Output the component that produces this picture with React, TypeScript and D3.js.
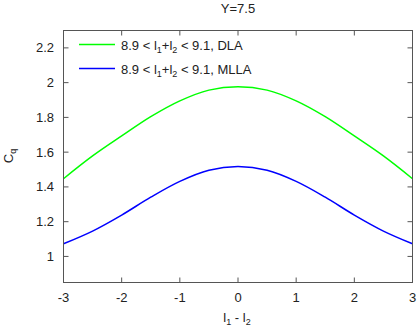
import React from "react";
import * as d3 from "d3";

const xValues = [-3, -2.5, -2, -1.5, -1, -0.5, 0, 0.5, 1, 1.5, 2, 2.5, 3];
const dlaValues = [1.447, 1.578, 1.693, 1.804, 1.895, 1.957, 1.977, 1.957, 1.895, 1.804, 1.693, 1.578, 1.447];
const mllaValues = [1.073, 1.146, 1.238, 1.341, 1.432, 1.496, 1.517, 1.496, 1.432, 1.341, 1.238, 1.146, 1.073];
const xTicks = [-3, -2, -1, 0, 1, 2, 3];
const yTicks = [1, 1.2, 1.4, 1.6, 1.8, 2, 2.2];
const seriesNames = ["DLA", "MLLA"];
const seriesColors = ["#00ff00", "#0000ff"];

const W = 419, H = 327;
const L = 63.5, R = 412.5, T = 30.5, B = 282.5;
const font = "'Liberation Sans', Arial, Helvetica, sans-serif";
const axisColor = "#555";
const textColor = "#222";

export default function App() {
  const x = d3.scaleLinear().domain([-3, 3]).range([L, R]);
  const y = d3.scaleLinear().domain([0.85, 2.3]).range([B, T]);
  const line = d3
    .line<number>()
    .x((_, i) => x(xValues[i]))
    .y((d) => y(d))
    .curve(d3.curveCatmullRom);
  const series = [dlaValues, mllaValues];
  const tl = 5;
  return (
    <svg width={W} height={H} style={{ position: "absolute", left: 0, top: 0, background: "#fff" }} fontFamily={font}>
      <rect x={0} y={0} width={W} height={H} fill="#fff" />
      {/* title */}
      <text x={238} y={12.5} fontSize={13} textAnchor="middle" fill={textColor}>Y=7.5</text>
      {/* ticks */}
      {xTicks.map((t) => (
        <g key={"x" + t}>
          <line x1={x(t)} x2={x(t)} y1={B} y2={B - tl} stroke={axisColor} />
          <line x1={x(t)} x2={x(t)} y1={T} y2={T + tl} stroke={axisColor} />
          <text x={x(t)} y={302} fontSize={13} textAnchor="middle" fill={textColor}>{t}</text>
        </g>
      ))}
      {yTicks.map((t) => (
        <g key={"y" + t}>
          <line x1={L} x2={L + tl} y1={y(t)} y2={y(t)} stroke={axisColor} />
          <line x1={R} x2={R - tl} y1={y(t)} y2={y(t)} stroke={axisColor} />
          <text x={54} y={y(t) + 4.5} fontSize={13} textAnchor="end" fill={textColor}>{t}</text>
        </g>
      ))}
      {/* curves */}
      {series.map((s, i) => (
        <path key={i} d={line(s) || ""} fill="none" stroke={seriesColors[i]} strokeWidth={1.5} />
      ))}
      {/* frame */}
      <rect x={L} y={T} width={R - L} height={B - T} fill="none" stroke={axisColor} strokeWidth={1} />
      {/* legend */}
      {seriesNames.map((n, i) => {
        const ly = 44.5 + i * 24;
        return (
          <g key={n}>
            <line x1={79} x2={115} y1={ly} y2={ly} stroke={seriesColors[i]} strokeWidth={1.5} />
            <text x={121} y={ly + 5.5} fontSize={13} fill={textColor}>
              8.9 &lt; l<tspan fontSize={9} dy={3}>1</tspan><tspan dy={-3}>+l</tspan><tspan fontSize={9} dy={3}>2</tspan><tspan dy={-3}> &lt; 9.1, {n}</tspan>
            </text>
          </g>
        );
      })}
      {/* axis labels */}
      <text x={237} y={322} fontSize={13} textAnchor="middle" fill={textColor}>
        l<tspan fontSize={9} dy={3}>1</tspan><tspan dy={-3}> - l</tspan><tspan fontSize={9} dy={3}>2</tspan>
      </text>
      <text transform="translate(13,156) rotate(-90)" fontSize={13} textAnchor="middle" fill={textColor}>
        C<tspan fontSize={9} dy={3}>q</tspan>
      </text>
    </svg>
  );
}
